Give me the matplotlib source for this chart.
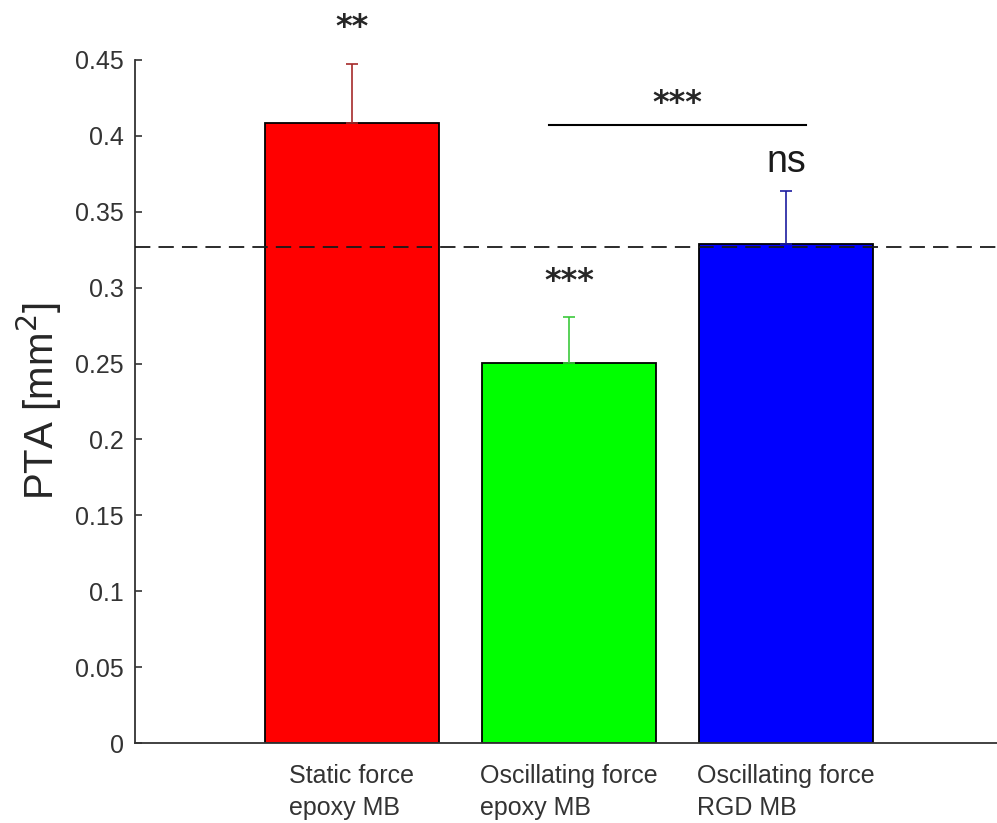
import numpy as np
import matplotlib.pyplot as plt
import matplotlib.transforms as mtransforms

plt.rcParams['font.family'] = ['Liberation Sans', 'DejaVu Sans']

labels = ['Static force\nepoxy MB', 'Oscillating force\nepoxy MB', 'Oscillating force\nRGD MB']
pta = [0.4085, 0.2505, 0.3285]
err = [0.0390, 0.0302, 0.0352]
bar_colors = ['#ff0000', '#00ff00', '#0000ff']
err_colors = ['#a52a2a', '#3cc93c', '#1c1ca0']
stars = ['**', '***', 'ns']
reference = 0.327

fig = plt.figure(figsize=(9.97, 8.23), dpi=100)
ax = fig.add_axes([0.1354, 0.0972, 0.8706, 0.8299])

x = np.arange(1, len(pta) + 1)
ax.bar(x, pta, width=0.8, color=bar_colors, edgecolor='black', linewidth=1.3, zorder=2)
for xi, v, e, c in zip(x, pta, err, err_colors):
    ax.errorbar(xi, v, yerr=[[0], [e]], color=c, capsize=4, elinewidth=1.2,
                capthick=1.2, zorder=3)

# reference level
ax.axhline(reference, color='#1a1a1a', linestyle=(0, (8.5, 4.5)), linewidth=1.3, zorder=4)

star_font = dict(family='DejaVu Sans', fontsize=23, fontweight='bold', color='#262626')

# significance marks above each bar
for xi, v, e, s in zip(x, pta, err, stars):
    if s == 'ns':
        ax.text(xi, v + e + 0.0125, s, ha='center', va='baseline', fontsize=27,
                color='#1a1a1a')
    else:
        ax.text(xi, v + e + 0.018, s, ha='center', va='baseline', clip_on=False,
                **star_font)

# comparison between the two oscillating groups
ax.plot([1.908, 3.092], [0.4072, 0.4072], color='black', linewidth=1.5)
ax.text(2.5, 0.4158, '***', ha='center', va='baseline', **star_font)

ax.set_xlim(0, 4)
ax.set_ylim(0, 0.45)
ax.set_yticks(np.arange(0, 0.451, 0.05))
ax.set_yticklabels(['0', '0.05', '0.1', '0.15', '0.2', '0.25', '0.3', '0.35', '0.4', '0.45'])
ax.set_xticks(x)
ax.set_xticklabels(labels, fontsize=18, color='#333333', linespacing=1.45,
                   multialignment='left')
shift = mtransforms.ScaledTranslation(-6 / 100, 0, fig.dpi_scale_trans)
for lab in ax.get_xticklabels():
    lab.set_transform(lab.get_transform() + shift)
ax.tick_params(axis='y', direction='in', length=5, labelsize=18, labelcolor='#333333',
               color='#333333', width=1.2, pad=8)
ax.tick_params(axis='x', length=0, pad=15)
ax.set_ylabel('PTA [mm$^2$]', fontsize=29, color='#262626', labelpad=8)

for side in ['top', 'right']:
    ax.spines[side].set_visible(False)
for side in ['left', 'bottom']:
    ax.spines[side].set_color('#333333')
    ax.spines[side].set_linewidth(1.3)

fig.savefig('out.png', dpi=100)
